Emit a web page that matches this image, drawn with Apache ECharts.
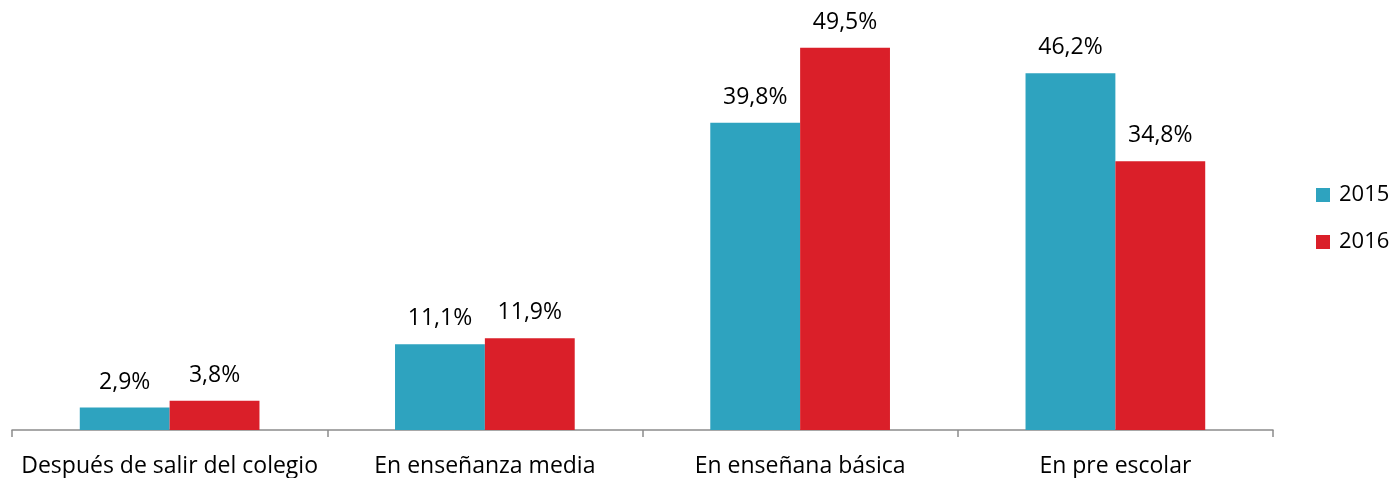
<!DOCTYPE html>
<html><head><meta charset="utf-8">
<script src="https://cdn.jsdelivr.net/npm/echarts@6/dist/echarts.min.js"></script>
<style>html,body{margin:0;padding:0;background:#fff}#c{width:1396px;height:478px}</style>
</head><body><div id="c"></div>
<script>
const categories = ['Después de salir del colegio', 'En enseñanza media', 'En enseñana básica', 'En pre escolar'];
const series2015 = [2.9, 11.1, 39.8, 46.2];
const series2016 = [3.8, 11.9, 49.5, 34.8];
const seriesNames = ['2015', '2016'];
const colors = ['#2EA3BF', '#DA1F29'];
const font = '"Open Sans", "Noto Sans", sans-serif';
const fmt = p => p.value.toFixed(1).replace('.', ',') + '%';
const chart = echarts.init(document.getElementById('c'));
chart.setOption({
  animation: false,
  textStyle: {fontFamily: font},
  grid: {left: 12, right: 123, top: 44, bottom: 48},
  legend: {
    orient: 'vertical', left: 1316, top: 184, itemWidth: 14, itemHeight: 14, itemGap: 25,
    icon: 'rect', padding: 0,
    textStyle: {fontSize: 22, color: '#000', fontFamily: font, padding: [0, 0, 0, 4]},
    data: seriesNames
  },
  xAxis: {
    type: 'category', data: categories,
    axisLine: {lineStyle: {color: '#8C8C8C', width: 1.5}},
    axisTick: {show: true, length: 7, lineStyle: {color: '#8C8C8C', width: 1.5}},
    axisLabel: {fontSize: 23, color: '#000', margin: 25, fontFamily: font, interval: 0}
  },
  yAxis: {type: 'value', min: 0, max: 50, show: false, splitLine: {show: false}},
  series: [
    {name: seriesNames[0], type: 'bar', data: series2015, barGap: '0%', barCategoryGap: '43%',
     itemStyle: {color: colors[0]},
     label: {show: true, position: 'top', distance: 14, fontSize: 23, color: '#000', formatter: fmt, fontFamily: font}},
    {name: seriesNames[1], type: 'bar', data: series2016, barGap: '0%', barCategoryGap: '43%',
     itemStyle: {color: colors[1]},
     label: {show: true, position: 'top', distance: 14, fontSize: 23, color: '#000', formatter: fmt, fontFamily: font}}
  ]
});
</script></body></html>
